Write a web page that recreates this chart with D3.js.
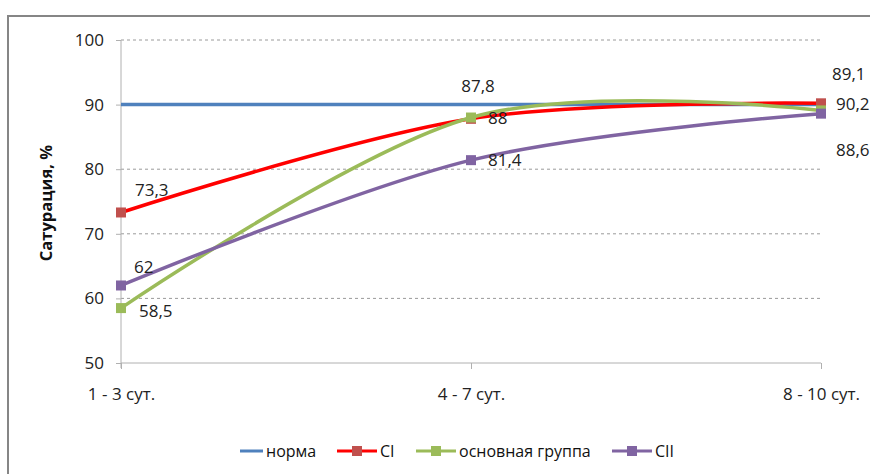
<!DOCTYPE html>
<html>
<head>
<meta charset="utf-8">
<script src="https://cdn.jsdelivr.net/npm/d3@7"></script>
<style>
  html, body { margin: 0; padding: 0; background: #fff; }
  svg { display: block; }
</style>
</head>
<body>
<svg id="chart" width="870" height="474"></svg>
<script>
// chart data
const categories = ["1 - 3 сут.", "4 - 7 сут.", "8 - 10 сут."];
const norma = [90, 90, 90];
const ci = [73.3, 87.8, 90.2];
const mainGroup = [58.5, 88, 89.1];
const cii = [62, 81.4, 88.6];
const yTicks = [50, 60, 70, 80, 90, 100];

// label offsets [dx, dy] from each marker, as Excel placed them
const ciLabelOff = [[14, -16], [7, -27], [15, 7]];
const mainLabelOff = [[18, 9], [17, 6], [11, -30]];
const ciiLabelOff = [[13, -12], [17, 6], [15, 42]];

const series = [
  { name: "норма", values: norma, line: "#4F81BD", marker: null, off: null },
  { name: "CI", values: ci, line: "#FF0000", marker: "#C0504D", off: ciLabelOff },
  { name: "основная группа", values: mainGroup, line: "#9BBB59", marker: "#9BBB59", off: mainLabelOff },
  { name: "CII", values: cii, line: "#8064A2", marker: "#8064A2", off: ciiLabelOff }
];

const svg = d3.select("#chart");
const font = "'Open Sans', 'DejaVu Sans', sans-serif";

// outer frame
svg.append("rect")
  .attr("x", 8).attr("y", 16)
  .attr("width", 900).attr("height", 500)
  .attr("fill", "none")
  .attr("stroke", "#868686")
  .attr("stroke-width", 2);

const x = d3.scalePoint().domain(categories).range([121, 821]);
const y = d3.scaleLinear().domain([50, 100]).range([363, 40]);

// gridlines
svg.append("g")
  .selectAll("line")
  .data(yTicks.filter(t => t > 50))
  .join("line")
  .attr("x1", 121).attr("x2", 821)
  .attr("y1", d => y(d)).attr("y2", d => y(d))
  .attr("stroke", "#9a9a9a")
  .attr("stroke-width", 1)
  .attr("stroke-dasharray", "3,3");

// y axis
const yAxis = svg.append("g")
  .attr("transform", "translate(121,0)")
  .call(d3.axisLeft(y).tickValues(yTicks).tickSize(5).tickPadding(12));
yAxis.select(".domain").attr("stroke", "#b0b0b0").attr("d", "M0,40V368");
yAxis.selectAll(".tick line").attr("stroke", "#b0b0b0");
yAxis.selectAll("text")
  .attr("font-family", font).attr("font-size", 17).attr("fill", "#222");

// x axis
const xAxis = svg.append("g")
  .attr("transform", "translate(0,363)")
  .call(d3.axisBottom(x).tickSize(6).tickPadding(19));
xAxis.select(".domain").attr("stroke", "#b0b0b0").attr("d", "M121,0H821");
xAxis.selectAll(".tick line").attr("stroke", "#b0b0b0");
xAxis.selectAll("text")
  .attr("font-family", font).attr("font-size", 17).attr("fill", "#222");

// y title
svg.append("text")
  .attr("transform", "translate(52,203) rotate(-90)")
  .attr("text-anchor", "middle")
  .attr("font-family", font)
  .attr("font-size", 16.5)
  .attr("font-weight", "bold")
  .attr("fill", "#111")
  .text("Сатурация, %");

// lines (Excel-like smoothing)
const smooth = d3.line()
  .x((d, i) => x(categories[i]))
  .y(d => y(d))
  .curve(d3.curveCardinal.tension(0));
const straight = d3.line()
  .x((d, i) => x(categories[i]))
  .y(d => y(d));

series.forEach(s => {
  svg.append("path")
    .datum(s.values)
    .attr("fill", "none")
    .attr("stroke", s.line)
    .attr("stroke-width", 3.5)
    .attr("d", s.marker ? smooth : straight);
});

// markers
series.filter(s => s.marker).forEach(s => {
  svg.append("g")
    .selectAll("rect")
    .data(s.values)
    .join("rect")
    .attr("x", (d, i) => x(categories[i]) - 5)
    .attr("y", d => y(d) - 5)
    .attr("width", 10).attr("height", 10)
    .attr("fill", s.marker);
});

// data labels
const fmt = v => String(v).replace(".", ",");
series.filter(s => s.off).forEach(s => {
  svg.append("g")
    .selectAll("text")
    .data(s.values)
    .join("text")
    .attr("x", (d, i) => x(categories[i]) + s.off[i][0])
    .attr("y", (d, i) => y(d) + s.off[i][1])
    .attr("text-anchor", (d, i) => i === 1 && s.off[i][1] < -20 ? "middle" : "start")
    .attr("font-family", font)
    .attr("font-size", 17)
    .attr("fill", "#222")
    .text(fmt);
});

// legend
const legendX = [240, 337, 416, 612];
const legend = svg.append("g");
series.forEach((s, i) => {
  const g = legend.append("g").attr("transform", `translate(${legendX[i]},451)`);
  g.append("line")
    .attr("x1", 0).attr("x2", s.marker ? 40 : 23)
    .attr("y1", 0).attr("y2", 0)
    .attr("stroke", s.line).attr("stroke-width", 3);
  if (s.marker) {
    g.append("rect")
      .attr("x", 15).attr("y", -5)
      .attr("width", 10).attr("height", 10)
      .attr("fill", s.marker);
  }
  g.append("text")
    .attr("x", s.marker ? 43 : 26)
    .attr("y", 6)
    .attr("font-family", font)
    .attr("font-size", 16)
    .attr("fill", "#111")
    .text(s.name);
});
</script>
</body>
</html>
